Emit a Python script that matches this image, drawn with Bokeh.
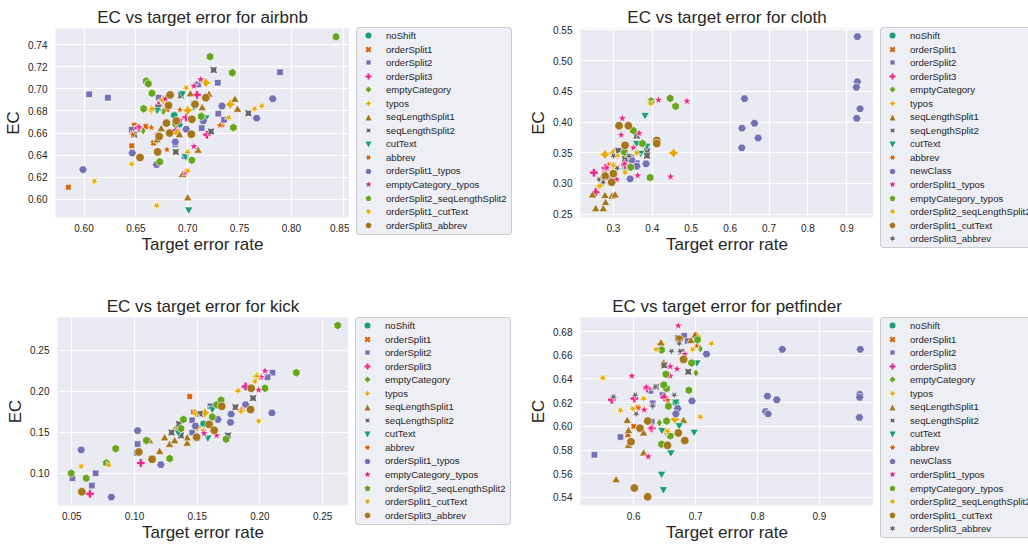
import math
from bokeh.plotting import figure
from bokeh.models import Range1d, FixedTicker, ColumnDataSource, PrintfTickFormatter, Div
from bokeh.layouts import row, column
from bokeh.embed import file_html
from bokeh.resources import INLINE

# ---------------- series names ----------------
SERIES_AK = ["noShift", "orderSplit1", "orderSplit2", "orderSplit3", "emptyCategory", "typos",
             "seqLengthSplit1", "seqLengthSplit2", "cutText", "abbrev", "orderSplit1_typos",
             "emptyCategory_typos", "orderSplit2_seqLengthSplit2", "orderSplit1_cutText",
             "orderSplit3_abbrev"]
SERIES_CP = ["noShift", "orderSplit1", "orderSplit2", "orderSplit3", "emptyCategory", "typos",
             "seqLengthSplit1", "seqLengthSplit2", "cutText", "abbrev", "newClass",
             "orderSplit1_typos", "emptyCategory_typos", "orderSplit2_seqLengthSplit2",
             "orderSplit1_cutText", "orderSplit3_abbrev"]

# ---------------- airbnb (target error rate, EC) ----------------
airbnb_noShift = [(0.687, 0.676), (0.692, 0.668)]
airbnb_orderSplit1 = [(0.585, 0.611), (0.646, 0.6485), (0.733, 0.668), (0.6485, 0.667),
                      (0.6595, 0.666), (0.680, 0.6815), (0.667, 0.651)]
airbnb_orderSplit2 = [(0.605, 0.695), (0.623, 0.692), (0.789, 0.715), (0.729, 0.7055),
                      (0.7295, 0.6775), (0.646, 0.663), (0.7135, 0.6645), (0.735, 0.672),
                      (0.672, 0.692), (0.688, 0.650), (0.697, 0.639), (0.710, 0.704)]
airbnb_orderSplit3 = [(0.7185, 0.6585), (0.6985, 0.674), (0.709, 0.6945), (0.6525, 0.6645),
                      (0.672, 0.685), (0.689, 0.6625)]
airbnb_emptyCategory = [(0.6765, 0.6795), (0.6705, 0.6535), (0.657, 0.662), (0.713, 0.676),
                        (0.687, 0.668)]
airbnb_typos = [(0.7175, 0.7055), (0.6765, 0.690), (0.700, 0.6805), (0.741, 0.686),
                (0.665, 0.681), (0.690, 0.660)]
airbnb_seqLengthSplit1 = [(0.700, 0.601), (0.695, 0.622), (0.710, 0.644), (0.7455, 0.690),
                          (0.748, 0.681), (0.714, 0.6825), (0.7205, 0.6945), (0.7025, 0.695),
                          (0.6745, 0.6635), (0.692, 0.658), (0.6705, 0.6535)]
airbnb_seqLengthSplit2 = [(0.725, 0.717), (0.7585, 0.678), (0.7225, 0.6615), (0.6485, 0.6585),
                          (0.6885, 0.643), (0.6935, 0.694), (0.6715, 0.683)]
airbnb_cutText = [(0.701, 0.591), (0.706, 0.684), (0.703, 0.673), (0.6705, 0.681),
                  (0.698, 0.639), (0.7175, 0.674), (0.695, 0.696)]
airbnb_abbrev = [(0.731, 0.667), (0.647, 0.6585), (0.6925, 0.681), (0.665, 0.665), (0.680, 0.645)]
airbnb_orderSplit1_typos = [(0.599, 0.627), (0.6465, 0.642), (0.782, 0.691), (0.7665, 0.6735),
                            (0.733, 0.6845), (0.670, 0.6315), (0.6985, 0.6635), (0.715, 0.671),
                            (0.688, 0.652)]
airbnb_emptyCategory_typos = [(0.7125, 0.7085), (0.6975, 0.6245), (0.706, 0.648), (0.6785, 0.691),
                              (0.653, 0.6655), (0.706, 0.7025), (0.6705, 0.6585), (0.6925, 0.6715)]
airbnb_orderSplit2_seqLengthSplit2 = [(0.843, 0.747), (0.7215, 0.729), (0.743, 0.7145),
                                      (0.660, 0.707), (0.662, 0.7045), (0.6655, 0.696),
                                      (0.6575, 0.682), (0.713, 0.675), (0.744, 0.665),
                                      (0.673, 0.634), (0.704, 0.6355)]
airbnb_orderSplit1_cutText = [(0.610, 0.6165), (0.646, 0.632), (0.670, 0.5945), (0.7645, 0.682),
                              (0.7715, 0.6845), (0.7395, 0.674), (0.700, 0.626), (0.6655, 0.682),
                              (0.6985, 0.701), (0.700, 0.643)]
airbnb_orderSplit3_abbrev = [(0.654, 0.638), (0.671, 0.643), (0.6725, 0.657), (0.6825, 0.660),
                             (0.689, 0.671), (0.7035, 0.659), (0.704, 0.6725), (0.7175, 0.692),
                             (0.683, 0.6945), (0.6795, 0.669), (0.6815, 0.685), (0.707, 0.686)]

# ---------------- cloth ----------------
cloth_noShift = [(0.330, 0.325)]
cloth_orderSplit1 = [(0.2785, 0.318), (0.2715, 0.308), (0.290, 0.330)]
cloth_orderSplit2 = [(0.310, 0.352), (0.3455, 0.3425), (0.360, 0.333), (0.290, 0.310)]
cloth_orderSplit3 = [(0.250, 0.3175), (0.2545, 0.286), (0.2795, 0.3255), (0.330, 0.330)]
cloth_emptyCategory = [(0.360, 0.350), (0.3445, 0.330), (0.300, 0.310)]
cloth_typos = [(0.2785, 0.347), (0.300, 0.3495), (0.4545, 0.3495), (0.2655, 0.296), (0.300, 0.328)]
cloth_seqLengthSplit1 = [(0.2465, 0.2805), (0.2545, 0.258), (0.2740, 0.258), (0.2785, 0.2795),
                         (0.2965, 0.2785), (0.3045, 0.2805), (0.2800, 0.268)]
cloth_seqLengthSplit2 = [(0.3865, 0.3525), (0.3865, 0.345), (0.360, 0.3775), (0.313, 0.3535),
                         (0.330, 0.340)]
cloth_cutText = [(0.3815, 0.4115), (0.360, 0.366), (0.386, 0.3615), (0.370, 0.350)]
cloth_abbrev = [(0.275, 0.310), (0.300, 0.330)]
cloth_newClass = [(0.927, 0.539), (0.927, 0.4655), (0.9245, 0.4565), (0.934, 0.4215),
                  (0.9255, 0.406), (0.637, 0.438), (0.6305, 0.390), (0.6625, 0.398),
                  (0.672, 0.374), (0.630, 0.358), (0.384, 0.332), (0.360, 0.328),
                  (0.343, 0.3075), (0.347, 0.3385)]
cloth_orderSplit1_typos = [(0.416, 0.436), (0.489, 0.434), (0.323, 0.406), (0.320, 0.379),
                           (0.366, 0.382), (0.3515, 0.358), (0.3285, 0.332), (0.3625, 0.313),
                           (0.447, 0.311), (0.3085, 0.3065), (0.283, 0.3255)]
cloth_emptyCategory_typos = [(0.446, 0.4385), (0.460, 0.4255), (0.397, 0.434), (0.3515, 0.386),
                             (0.3745, 0.365), (0.3285, 0.351), (0.3445, 0.3265), (0.3945, 0.3095)]
cloth_orderSplit2_seqLengthSplit2 = [(0.3015, 0.3295), (0.310, 0.345), (0.265, 0.296),
                                     (0.330, 0.318), (0.360, 0.350), (0.396, 0.430)]
cloth_orderSplit1_cutText = [(0.3145, 0.394), (0.3385, 0.394), (0.330, 0.362), (0.4115, 0.370),
                             (0.4115, 0.365), (0.300, 0.316), (0.2955, 0.302), (0.2785, 0.312)]
cloth_orderSplit3_abbrev = [(0.263, 0.3065), (0.274, 0.302), (0.300, 0.345), (0.310, 0.325),
                            (0.340, 0.345)]

# ---------------- kick ----------------
kick_noShift = [(0.155, 0.160)]
kick_orderSplit1 = [(0.144, 0.1935), (0.147, 0.1745)]
kick_orderSplit2 = [(0.0505, 0.094), (0.069, 0.100), (0.066, 0.085), (0.102, 0.125),
                    (0.1025, 0.1355), (0.210, 0.2225), (0.206, 0.217), (0.1605, 0.1815),
                    (0.146, 0.1645), (0.146, 0.1495)]
kick_orderSplit3 = [(0.105, 0.1125), (0.0645, 0.075), (0.1885, 0.2055)]
kick_emptyCategory = [(0.1615, 0.1695), (0.1365, 0.150), (0.1095, 0.139)]
kick_typos = [(0.156, 0.1735), (0.150, 0.156), (0.1975, 0.2175), (0.185, 0.176)]
kick_seqLengthSplit1 = [(0.112, 0.139), (0.124, 0.1425), (0.120, 0.126), (0.128, 0.1345),
                        (0.132, 0.139), (0.142, 0.136), (0.1325, 0.1535), (0.142, 0.1425)]
kick_seqLengthSplit2 = [(0.1945, 0.1915), (0.1805, 0.1805), (0.1355, 0.160), (0.1295, 0.1495),
                        (0.137, 0.146), (0.152, 0.1725), (0.1745, 0.146)]
kick_cutText = [(0.1585, 0.1435), (0.162, 0.1785), (0.135, 0.150)]
kick_abbrev = [(0.1485, 0.1585), (0.155, 0.152)]
kick_orderSplit1_typos = [(0.0575, 0.1285), (0.0815, 0.071), (0.1025, 0.152), (0.121, 0.1105),
                          (0.2095, 0.1735), (0.1885, 0.1835), (0.177, 0.172), (0.1665, 0.1655),
                          (0.1765, 0.162), (0.1485, 0.1575)]
kick_emptyCategory_typos = [(0.204, 0.2245), (0.201, 0.217), (0.199, 0.2015), (0.1655, 0.146),
                            (0.1555, 0.1485), (0.1855, 0.1775)]
kick_orderSplit2_seqLengthSplit2 = [(0.262, 0.280), (0.229, 0.2225), (0.0495, 0.100),
                                    (0.0615, 0.094), (0.0775, 0.1125), (0.085, 0.130),
                                    (0.128, 0.118), (0.139, 0.1655), (0.137, 0.1545),
                                    (0.1655, 0.1835), (0.169, 0.189), (0.173, 0.1415),
                                    (0.204, 0.2035), (0.162, 0.1685), (0.1095, 0.140)]
kick_orderSplit1_cutText = [(0.0575, 0.1085), (0.0795, 0.110), (0.1825, 0.2005), (0.1975, 0.218),
                            (0.199, 0.1635), (0.185, 0.1755), (0.1485, 0.1725), (0.196, 0.212)]
kick_orderSplit3_abbrev = [(0.058, 0.0775), (0.1035, 0.126), (0.114, 0.117), (0.1495, 0.144),
                           (0.1595, 0.1595), (0.1635, 0.1525), (0.1695, 0.1815), (0.193, 0.2035),
                           (0.1925, 0.1775)]

# ---------------- petfinder ----------------
petfinder_noShift = [(0.668, 0.620)]
petfinder_orderSplit1 = [(0.6065, 0.616), (0.5905, 0.593), (0.600, 0.600)]
petfinder_orderSplit2 = [(0.5365, 0.576), (0.5785, 0.591), (0.6815, 0.6765), (0.671, 0.6745),
                         (0.629, 0.604), (0.627, 0.630), (0.687, 0.672), (0.6465, 0.6265),
                         (0.6305, 0.6195)]
petfinder_orderSplit3 = [(0.5645, 0.6225), (0.601, 0.6235), (0.6495, 0.6245), (0.629, 0.5985),
                         (0.6215, 0.632)]
petfinder_emptyCategory = [(0.7005, 0.645), (0.7075, 0.6655), (0.6415, 0.603)]
petfinder_typos = [(0.644, 0.6695), (0.652, 0.5955), (0.6665, 0.606), (0.702, 0.676)]
petfinder_seqLengthSplit1 = [(0.5715, 0.5545), (0.616, 0.577), (0.5915, 0.5835), (0.5915, 0.596),
                             (0.616, 0.594), (0.5895, 0.6045), (0.6805, 0.6045), (0.6485, 0.653),
                             (0.644, 0.670), (0.699, 0.6765), (0.6925, 0.672)]
petfinder_seqLengthSplit2 = [(0.688, 0.646), (0.636, 0.6335), (0.6495, 0.6515), (0.677, 0.663)]
petfinder_cutText = [(0.645, 0.560), (0.648, 0.547), (0.660, 0.578), (0.6975, 0.5955),
                     (0.6735, 0.601), (0.6455, 0.597), (0.702, 0.654), (0.668, 0.621)]
petfinder_abbrev = [(0.7015, 0.668), (0.6075, 0.6155), (0.655, 0.622)]
petfinder_newClass = [(0.840, 0.665), (0.966, 0.665), (0.965, 0.627), (0.965, 0.6245),
                      (0.9645, 0.6075), (0.816, 0.6255), (0.831, 0.6225), (0.813, 0.6125),
                      (0.817, 0.6105), (0.7175, 0.661), (0.694, 0.6215), (0.671, 0.615),
                      (0.668, 0.6105)]
petfinder_orderSplit1_typos = [(0.672, 0.685), (0.597, 0.6425), (0.6235, 0.5745), (0.659, 0.6505),
                               (0.670, 0.6485), (0.659, 0.6425), (0.620, 0.633), (0.6825, 0.661),
                               (0.628, 0.5985), (0.617, 0.614)]
petfinder_emptyCategory_typos = [(0.703, 0.673), (0.645, 0.6645), (0.6935, 0.6535), (0.689, 0.6305),
                                 (0.652, 0.644), (0.653, 0.632), (0.659, 0.592), (0.645, 0.585),
                                 (0.653, 0.6045), (0.656, 0.617), (0.6485, 0.635)]
petfinder_orderSplit2_seqLengthSplit2 = [(0.550, 0.641), (0.7255, 0.670), (0.7075, 0.608),
                                         (0.5785, 0.6135), (0.5985, 0.615), (0.636, 0.665),
                                         (0.616, 0.6235), (0.6545, 0.596), (0.695, 0.665)]
petfinder_orderSplit1_cutText = [(0.601, 0.548), (0.6225, 0.5405), (0.5955, 0.587), (0.610, 0.5985),
                                 (0.6545, 0.584), (0.672, 0.5945), (0.6825, 0.588), (0.6805, 0.6565),
                                 (0.6735, 0.6735), (0.6225, 0.6045)]
petfinder_orderSplit3_abbrev = [(0.5675, 0.625), (0.6025, 0.6265), (0.635, 0.6335), (0.661, 0.6635),
                                (0.675, 0.6635), (0.6735, 0.670), (0.6655, 0.6265), (0.6305, 0.617),
                                (0.604, 0.6105)]

# ---------------- axes: ticks and extents ----------------
airbnb_xticks = [0.60, 0.65, 0.70, 0.75, 0.80, 0.85]
airbnb_yticks = [0.60, 0.62, 0.64, 0.66, 0.68, 0.70, 0.72, 0.74]
cloth_xticks = [0.3, 0.4, 0.5, 0.6, 0.7, 0.8, 0.9]
cloth_yticks = [0.25, 0.30, 0.35, 0.40, 0.45, 0.50, 0.55]
kick_xticks = [0.05, 0.10, 0.15, 0.20, 0.25]
kick_yticks = [0.10, 0.15, 0.20, 0.25]
petfinder_xticks = [0.6, 0.7, 0.8, 0.9]
petfinder_yticks = [0.54, 0.56, 0.58, 0.60, 0.62, 0.64, 0.66, 0.68]

airbnb_xrange, airbnb_yrange = (0.5725, 0.856), (0.5837, 0.7545)
cloth_xrange, cloth_yrange = (0.2155, 0.9685), (0.2446, 0.5522)
kick_xrange, kick_yrange = (0.0386, 0.2706), (0.0608, 0.2896)
petfinder_xrange, petfinder_yrange = (0.5140, 0.9873), (0.5332, 0.6919)

DARK2 = ["#1b9e77", "#d95f02", "#7570b3", "#e7298a", "#66a61e", "#e6ab02", "#a6761d", "#666666"]
# Bokeh marker, size, angle approximating seaborn's default style sequence
STYLES = [("circle", 7.5, 0), ("x", 6.0, 0), ("square", 6.5, 0), ("plus", 8.5, 0),
          ("diamond", 8.5, 0), ("square_pin", 8.5, math.pi / 4), ("triangle", 8.5, 0),
          ("square_pin", 8.0, 0), ("inverted_triangle", 8.5, 0), ("star", 9.0, 0),
          ("hex", 8.5, 0), ("star", 9.5, 0), ("hex", 8.5, math.pi / 6), ("star", 9.5, math.pi),
          ("circle", 8.5, 0), ("star", 9.0, math.pi)]
# seaborn / matplotlib marker definitions, used for the legend keys
MPL_MARKERS = [("o",), ("X",), ("poly", 4, 45), ("P",), ("poly", 4, 0), ("star", 4, 0), ("^",),
               ("star", 4, 45), ("v",), ("star", 6, 30), ("poly", 6, 30), ("star", 5, 0),
               ("poly", 5, 0), ("star", 7, 360 / 7 / 2), ("poly", 7, 360 / 7 / 2), ("star", 6, 0)]

FONT = "Liberation Sans"
TXT = "#262626"


def collect(prefix, names):
    g = globals()
    return [(n, g[prefix + "_" + n]) for n in names]


def add_points(p, i, xs, ys):
    mk, sz, ang = STYLES[i]
    col = DARK2[i % 8]
    src = ColumnDataSource(dict(x=xs, y=ys))
    if mk == "x":
        return p.scatter("x", "y", source=src, marker=mk, size=sz, angle=ang,
                         line_color=col, line_width=2.4)
    return p.scatter("x", "y", source=src, marker=mk, size=sz, angle=ang,
                     fill_color=col, line_color="white", line_width=0.6)


def make_plot(name, series, xr, yr, xt, yt, xfmt, yfmt, w, h, left, top, bottom):
    p = figure(width=w, height=h, output_backend="svg", toolbar_location=None,
               x_range=Range1d(*xr), y_range=Range1d(*yr),
               min_border_left=left, min_border_right=0,
               min_border_top=top, min_border_bottom=bottom,
               title="EC vs target error for " + name)
    p.title.align = "center"
    p.title.text_font = FONT
    p.title.text_font_size = "17px"
    p.title.text_font_style = "normal"
    p.title.text_color = TXT
    p.title.standoff = 3
    p.background_fill_color = "#eaeaf2"
    p.border_fill_color = "white"
    p.outline_line_color = None
    p.xaxis.ticker = FixedTicker(ticks=xt)
    p.yaxis.ticker = FixedTicker(ticks=yt)
    p.xaxis.formatter = PrintfTickFormatter(format=xfmt)
    p.yaxis.formatter = PrintfTickFormatter(format=yfmt)
    p.xaxis.axis_label = "Target error rate"
    p.yaxis.axis_label = "EC"
    for ax in (p.xaxis, p.yaxis):
        ax.axis_line_color = None
        ax.major_tick_line_color = None
        ax.minor_tick_line_color = None
        ax.major_tick_out = 0
        ax.major_tick_in = 0
        ax.minor_tick_out = 0
        ax.major_label_text_font = FONT
        ax.major_label_text_font_size = "10px"
        ax.major_label_text_color = TXT
        ax.axis_label_text_font = FONT
        ax.axis_label_text_font_size = "17px"
        ax.axis_label_text_font_style = "normal"
        ax.axis_label_text_color = TXT
    p.xaxis.major_label_standoff = 6
    p.yaxis.major_label_standoff = 8
    p.xaxis.axis_label_standoff = 0
    p.yaxis.axis_label_standoff = 2
    p.grid.grid_line_color = "white"
    p.grid.grid_line_width = 1.2
    for i, (sname, pts) in enumerate(series):
        add_points(p, i, [q[0] for q in pts], [q[1] for q in pts])
    return p


def key_svg(i):
    spec = MPL_MARKERS[i]
    col = DARK2[i % 8]
    c, r = 6.5, 3.0

    def pts_str(pts):
        return " ".join("%.2f,%.2f" % (c + px, c - py) for px, py in pts)

    kind = spec[0]
    if kind == "o":
        shape = '<circle cx="6.5" cy="6.5" r="%.2f" fill="%s"/>' % (r, col)
    else:
        if kind == "poly" or kind == "star":
            n, ang = spec[1], math.radians(spec[2])
            if kind == "poly":
                pts = [(r * math.cos(2 * math.pi * k / n + math.pi / 2 + ang),
                        r * math.sin(2 * math.pi * k / n + math.pi / 2 + ang)) for k in range(n)]
            else:
                pts = [((r if k % 2 == 0 else r * 0.5) * math.cos(math.pi * k / n + math.pi / 2 + ang),
                        (r if k % 2 == 0 else r * 0.5) * math.sin(math.pi * k / n + math.pi / 2 + ang))
                       for k in range(2 * n)]
        elif kind == "X":
            base = [(-1, -2), (0, -1), (1, -2), (2, -1), (1, 0), (2, 1), (1, 2), (0, 1),
                    (-1, 2), (-2, 1), (-1, 0), (-2, -1)]
            pts = [(bx / 4 * 2 * r, by / 4 * 2 * r) for bx, by in base]
        elif kind == "P":
            base = [(-1, -3), (1, -3), (1, -1), (3, -1), (3, 1), (1, 1), (1, 3), (-1, 3),
                    (-1, 1), (-3, 1), (-3, -1), (-1, -1)]
            pts = [(bx / 6 * 2 * r, by / 6 * 2 * r) for bx, by in base]
        elif kind == "^":
            pts = [(0, r), (-r, -r), (r, -r)]
        else:  # "v"
            pts = [(0, -r), (-r, r), (r, r)]
        shape = '<polygon points="%s" fill="%s"/>' % (pts_str(pts), col)
    return ('<svg width="13" height="13" viewBox="0 0 13 13" '
            'style="display:block;flex:none">%s</svg>' % shape)


def make_legend(series, w, h, top):
    # legend panel beside the axes (the reference legend sits outside the axes, to the right)
    rows = "".join(
        '<div style="display:flex;align-items:center;height:13.55px;">%s'
        '<span style="margin-left:11px;">%s</span></div>' % (key_svg(i), sname)
        for i, (sname, pts) in enumerate(series))
    box = ('<div style="position:absolute;left:7px;top:%spx;'
           'box-sizing:border-box;padding:1px 4px 1.5px 5px;background:rgba(234,234,242,0.8);'
           'border:1px solid #cccccc;border-radius:3px;font-family:\'Liberation Sans\',sans-serif;'
           'font-size:9.6px;color:#262626;white-space:nowrap;line-height:13.55px;">%s</div>'
           % (top, rows))
    html = ('<div style="position:relative;width:%dpx;height:%dpx;overflow:hidden;'
            'background:white;margin:0;padding:0;">%s</div>' % (w, h, box))
    return Div(text=html, width=w, height=h, margin=0, styles={"overflow": "hidden"})


sA = collect("airbnb", SERIES_AK)
sB = collect("cloth", SERIES_CP)
sC = collect("kick", SERIES_AK)
sD = collect("petfinder", SERIES_CP)

pA = make_plot("airbnb", sA, airbnb_xrange, airbnb_yrange, airbnb_xticks, airbnb_yticks,
               "%.2f", "%.2f", 349, 288, 55, 28, 71)
lA = make_legend(sA, 171, 288, 27)
pB = make_plot("cloth", sB, cloth_xrange, cloth_yrange, cloth_xticks, cloth_yticks,
               "%.1f", "%.2f", 353, 288, 60, 28, 71)
lB = make_legend(sB, 155, 288, 27)
pC = make_plot("kick", sC, kick_xrange, kick_yrange, kick_xticks, kick_yticks,
               "%.2f", "%.2f", 348, 256, 57, 29, 37)
lC = make_legend(sC, 172, 256, 29)
pD = make_plot("petfinder", sD, petfinder_xrange, petfinder_yrange, petfinder_xticks,
               petfinder_yticks, "%.1f", "%.2f", 353, 256, 60, 29, 37)
lD = make_legend(sD, 155, 256, 29)

layout = column(row(pA, lA, pB, lB), row(pC, lC, pD, lD))
open("out.html", "w").write(file_html(layout, INLINE))
